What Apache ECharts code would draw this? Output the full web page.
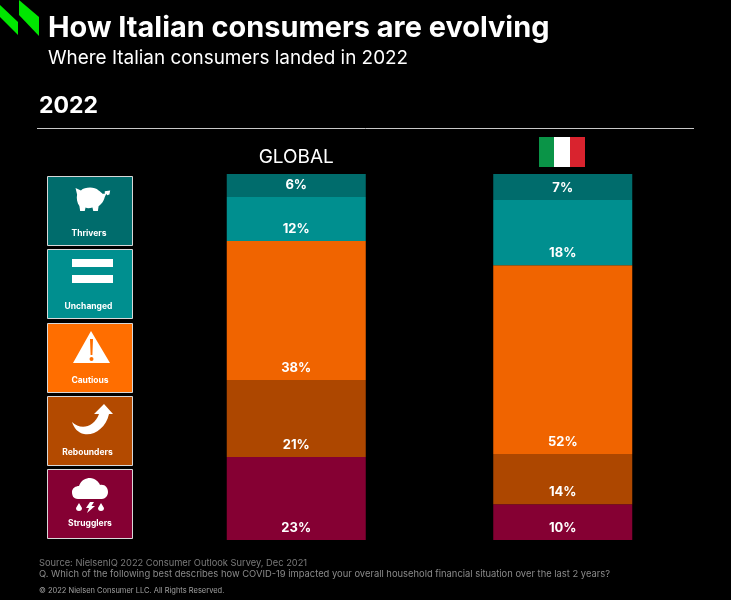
<!DOCTYPE html>
<html>
<head>
<meta charset="utf-8">
<style>
  html, body { margin: 0; padding: 0; background: #000; }
  #chart { width: 731px; height: 600px; }
</style>
<script src="https://cdn.jsdelivr.net/npm/echarts@6/dist/echarts.min.js"></script>
</head>
<body>
<div id="chart"></div>
<script>
// top of the stack first
const segments = ['Thrivers', 'Unchanged', 'Cautious', 'Rebounders', 'Strugglers']
const regions = ['GLOBAL', 'ITALY']
const globalValues = [6.3, 12, 38, 21, 22.7]
const italyValues = [7.1, 17.8, 51.6, 13.7, 9.8]
const barColors = ['#006c6c', '#008f8f', '#f06400', '#ad4700', '#850033']
const tileColors = ['#006c6c', '#008f8f', '#ff6e00', '#b34a00', '#850033']
const tileTops = [176, 249, 323, 396, 469]

const FONT = 'Inter, "Open Sans", sans-serif'

const chart = echarts.init(document.getElementById('chart'))

// stacked from the bottom, so the list is walked backwards
const series = segments.map((name, i) => ({
  name: name,
  type: 'bar',
  stack: 'share',
  barWidth: 139,
  z: 2,
  itemStyle: { color: barColors[i] },
  label: {
    show: true,
    position: 'insideBottom',
    distance: 5.5,
    color: '#fff',
    fontFamily: FONT,
    fontWeight: 700,
    fontSize: 13,
    formatter: p => Math.round(p.value) + '%'
  },
  data: [globalValues[i], italyValues[i]]
})).reverse()

function text(x, y, str, size, weight, color, align) {
  return {
    type: 'text',
    x: x,
    y: y,
    style: {
      text: str,
      fontFamily: FONT,
      fontSize: size,
      fontWeight: weight,
      fill: color,
      align: align || 'left',
      verticalAlign: 'middle'
    }
  }
}

// graphic has no plain path type, so each icon is registered as a shape
const iconPaths = [
  // piggy bank
  'M4 14 L2 6 L9 9 C14 5 26 4 32 9 C34 10 36 12 37 13 L40 13 L40 10 L47 9 L46 14 L43 15 L42 13 L40 17 C38 24 34 27 32 28 L31 34 L25 34 L24 30 C20 31 17 31 15 30 L14 34 L8 34 L7 28 C4 24 3 19 4 14 Z',
  // equals sign
  'M0 0 H41 V8 H0 Z M0 16 H41 V24 H0 Z',
  // warning triangle
  'M18 0 L37 32 H0 Z M17 8 L17.6 24 H19.4 L20 8 Z M18.5 26 A2 2 0 1 0 18.5 30 A2 2 0 1 0 18.5 26 Z',
  // curved arrow
  'M0 18 C8 26 22 24 27 10 L22 10 L32 0 L41 10 L37 10 C34 24 22 32 12 30 C6 29 2 24 0 18 Z',
  // cloud with drops and a bolt
  'M6 21 C1 21 0 17 0 14 C0 10 4 8 7 8 C9 2 14 0 18 0 C23 0 27 4 28 7 C33 6 36 10 36 14 C36 18 33 21 30 21 Z M7 25 L10 30 A3 3 0 1 1 4 30 Z M29 25 L32 30 A3 3 0 1 1 26 30 Z M18 24 H22 L19.5 28 H23 L15 35 L17 30 H14 Z'
]
// x, y, scaleX, scaleY
const iconPlaces = [
  [74, 183, 0.77, 0.82],
  [72, 259, 1, 1],
  [73, 331, 1, 1],
  [72, 404, 1, 1],
  [72, 478, 1, 1]
]
// x centre, y centre of the tile captions
const captionPlaces = [[89, 233], [88.5, 306], [90, 380], [87.5, 452], [90, 523]]

const tiles = []
segments.forEach((name, i) => {
  const top = tileTops[i]
  const place = iconPlaces[i]
  echarts.graphic.registerShape('icon' + i, echarts.graphic.extendPath(iconPaths[i], {}))
  tiles.push({
    type: 'rect',
    shape: { x: 47.5, y: top + 0.5, width: 85, height: 69 },
    style: { fill: tileColors[i], stroke: '#d8d8d8', lineWidth: 1 }
  })
  tiles.push({
    type: 'icon' + i,
    x: place[0],
    y: place[1],
    scaleX: place[2],
    scaleY: place[3],
    style: { fill: '#fff' }
  })
  tiles.push(text(captionPlaces[i][0], captionPlaces[i][1], name, 8.5, 700, '#fff', 'center'))
})

const option = {
  backgroundColor: '#000',
  animation: false,
  textStyle: { fontFamily: FONT },
  grid: { left: 163, top: 174, width: 533, height: 366 },
  xAxis: {
    type: 'category',
    position: 'top',
    data: regions,
    axisLine: { show: false },
    axisTick: { show: false },
    axisLabel: {
      margin: 7,
      color: '#fff',
      fontFamily: FONT,
      fontSize: 19,
      // Italy is shown as its flag
      formatter: v => v === 'ITALY' ? '' : v
    }
  },
  yAxis: { type: 'value', min: 0, max: 100, show: false },
  series: series,
  graphic: [
    // logo
    { type: 'polygon', shape: { points: [[0, 5], [18, 22], [18, 35], [0, 17]] }, style: { fill: '#00e600' } },
    { type: 'polygon', shape: { points: [[19, 0], [39, 17], [39, 36], [19, 15]] }, style: { fill: '#00e600' } },
    text(48, 28, 'How Italian consumers are evolving', 28.9, 700, '#fff'),
    text(48, 58, 'Where Italian consumers landed in 2022', 18.9, 400, '#fff'),
    text(39, 106, '2022', 23, 700, '#fff'),
    { type: 'line', shape: { x1: 37, y1: 128.5, x2: 694, y2: 128.5 }, style: { stroke: '#c8c8c8', lineWidth: 1 } },
    // flag
    { type: 'rect', shape: { x: 539, y: 137, width: 15, height: 30 }, style: { fill: '#0a9447' } },
    { type: 'rect', shape: { x: 554, y: 137, width: 16, height: 30 }, style: { fill: '#fff' } },
    { type: 'rect', shape: { x: 570, y: 137, width: 15, height: 30 }, style: { fill: '#d9232e' } },
    ...tiles,
    text(39, 563, 'Source: NielsenIQ 2022 Consumer Outlook Survey, Dec 2021', 9.3, 400, '#7a7a7a'),
    text(39, 574, 'Q. Which of the following best describes how COVID-19 impacted your overall household financial situation over the last 2 years?', 9.4, 400, '#8a8a8a'),
    text(39, 591, '© 2022 Nielsen Consumer LLC. All Rights Reserved.', 7.5, 400, '#a0a0a0')
  ]
}

chart.setOption(option)
</script>
</body>
</html>
